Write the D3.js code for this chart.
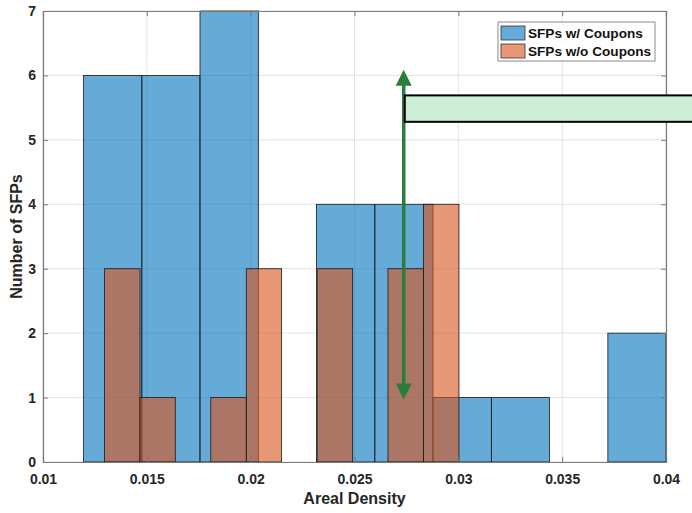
<!DOCTYPE html>
<html>
<head>
<meta charset="utf-8">
<title>Areal Density histogram</title>
<script src="https://d3js.org/d3.v7.min.js"></script>
<style>
  body { margin: 0; background: #fff; }
  svg { display: block; font-family: "Liberation Sans", Arial, Helvetica, sans-serif; }
</style>
</head>
<body>
<svg id="chart" width="692" height="513"></svg>
<script>
// histogram bins
var blueEdges = [0.01195, 0.01476, 0.01756, 0.02037, 0.02317, 0.02598, 0.02878, 0.03159, 0.03439, 0.03720, 0.04000];
var blueCounts = [6, 6, 7, 0, 4, 4, 1, 1, 0, 2];
var orangeEdges = [0.01296, 0.01467, 0.01637, 0.01808, 0.01979, 0.02149, 0.02320, 0.02491, 0.02661, 0.02832, 0.03003];
var orangeCounts = [3, 1, 0, 1, 3, 0, 3, 0, 3, 4];

var xTicks = [0.01, 0.015, 0.02, 0.025, 0.03, 0.035, 0.04];
var xTickLabels = ["0.01", "0.015", "0.02", "0.025", "0.03", "0.035", "0.04"];
var yTicks = [0, 1, 2, 3, 4, 5, 6, 7];

var seriesNames = ["SFPs w/ Coupons", "SFPs w/o Coupons"];

// annotation (arrow + box) in data units
var arrowX = 0.02737, arrowTop = 6.09, arrowBottom = 0.97;
var boxX0 = 0.02742, boxX1 = 0.0416, boxTop = 5.69, boxBottom = 5.28;

var margin = {top: 11, right: 26, bottom: 51, left: 43};
var W = 692, H = 513;
var iw = W - margin.left - margin.right, ih = H - margin.top - margin.bottom;

var svg = d3.select("#chart");
var g = svg.append("g").attr("transform", "translate(" + margin.left + "," + margin.top + ")");

var x = d3.scaleLinear().domain([0.01, 0.04]).range([0, iw]);
var y = d3.scaleLinear().domain([0, 7]).range([ih, 0]);

var blue = "#0072bd", orange = "#d95319";

// grid
g.append("g").selectAll("line").data(xTicks).join("line")
  .attr("x1", d => x(d)).attr("x2", d => x(d)).attr("y1", 0).attr("y2", ih)
  .attr("stroke", "#e3e3e3").attr("stroke-width", 1);
g.append("g").selectAll("line").data(yTicks).join("line")
  .attr("y1", d => y(d)).attr("y2", d => y(d)).attr("x1", 0).attr("x2", iw)
  .attr("stroke", "#e3e3e3").attr("stroke-width", 1);

function bins(edges, counts) {
  return counts.map((c, i) => ({x0: edges[i], x1: edges[i + 1], n: c})).filter(b => b.n > 0);
}

function drawBars(data, color) {
  g.append("g").selectAll("rect").data(data).join("rect")
    .attr("x", d => x(d.x0))
    .attr("width", d => x(d.x1) - x(d.x0))
    .attr("y", d => y(d.n))
    .attr("height", d => y(0) - y(d.n))
    .attr("fill", color).attr("fill-opacity", 0.6)
    .attr("stroke", "#1a1a1a").attr("stroke-width", 0.8);
}
drawBars(bins(blueEdges, blueCounts), blue);
drawBars(bins(orangeEdges, orangeCounts), orange);

// axes with inward ticks on all sides
var axisColor = "#7a7a7a";
var xAxis = g.append("g").attr("transform", "translate(0," + ih + ")")
  .call(d3.axisBottom(x).tickValues(xTicks).tickFormat((d, i) => xTickLabels[i]).tickSize(-5).tickPadding(12));
var yAxis = g.append("g")
  .call(d3.axisLeft(y).tickValues(yTicks).tickFormat(d3.format("d")).tickSize(-5).tickPadding(7));
var xTop = g.append("g").call(d3.axisTop(x).tickValues(xTicks).tickFormat("").tickSize(-5));
var yRight = g.append("g").attr("transform", "translate(" + iw + ",0)")
  .call(d3.axisRight(y).tickValues(yTicks).tickFormat("").tickSize(-5));

[xAxis, yAxis, xTop, yRight].forEach(a => {
  a.select(".domain").attr("stroke", axisColor).attr("stroke-width", 1.2);
  a.selectAll(".tick line").attr("stroke", axisColor);
  a.selectAll("text").attr("fill", "#262626").attr("font-size", 14).attr("font-weight", "bold")
    .attr("font-family", "'Liberation Sans', Arial, sans-serif");
});

// axis titles
svg.append("text")
  .attr("x", margin.left + iw / 2).attr("y", 504)
  .attr("text-anchor", "middle").attr("font-size", 16).attr("font-weight", "bold").attr("fill", "#262626")
  .text("Areal Density");
svg.append("text")
  .attr("transform", "translate(16," + (margin.top + ih / 2) + ") rotate(-90)")
  .attr("dy", "0.35em")
  .attr("text-anchor", "middle").attr("font-size", 16).attr("font-weight", "bold").attr("fill", "#262626")
  .text("Number of SFPs");

// legend
var leg = svg.append("g").attr("transform", "translate(498,22)");
leg.append("rect").attr("width", 157).attr("height", 39)
  .attr("fill", "#fff").attr("stroke", "#8a8a8a").attr("stroke-width", 1);
[blue, orange].forEach((c, i) => {
  var row = leg.append("g").attr("transform", "translate(3," + (4 + i * 18) + ")");
  row.append("rect").attr("width", 24).attr("height", 14)
    .attr("fill", c).attr("fill-opacity", 0.6).attr("stroke", "#333").attr("stroke-width", 0.8);
  row.append("text").attr("x", 27).attr("y", 12)
    .attr("font-size", 13.6).attr("font-weight", "bold").attr("fill", "#111")
    .text(seriesNames[i]);
});

// green double-headed arrow
var green = "#2b7d3d";
var ax = margin.left + x(arrowX);
var yT = margin.top + y(arrowTop), yB = margin.top + y(arrowBottom);
var headL = 16, headW = 8;
svg.append("line").attr("x1", ax).attr("x2", ax).attr("y1", yT + headL - 1).attr("y2", yB - headL + 1)
  .attr("stroke", green).attr("stroke-width", 3.5);
svg.append("path")
  .attr("d", "M" + ax + "," + yT + "L" + (ax - headW) + "," + (yT + headL) + "L" + (ax + headW) + "," + (yT + headL) + "Z")
  .attr("fill", green);
svg.append("path")
  .attr("d", "M" + ax + "," + yB + "L" + (ax - headW) + "," + (yB - headL) + "L" + (ax + headW) + "," + (yB - headL) + "Z")
  .attr("fill", green);

// annotation box (runs off the right edge)
svg.append("rect")
  .attr("x", margin.left + x(boxX0)).attr("y", margin.top + y(boxTop))
  .attr("width", x(boxX1) - x(boxX0)).attr("height", y(boxBottom) - y(boxTop))
  .attr("fill", "#cdeed6").attr("stroke", "#000").attr("stroke-width", 2);
</script>
</body>
</html>
